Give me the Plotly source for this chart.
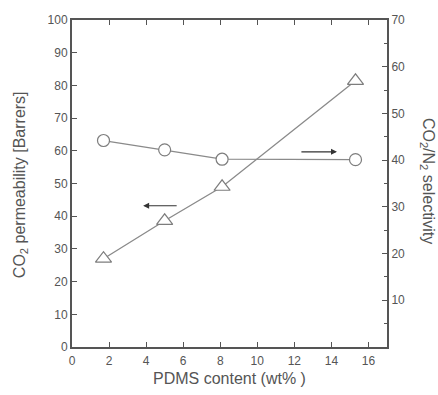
import plotly.graph_objects as go

pdms = [1.7, 5.0, 8.1, 15.3]
permeability = [27.0, 38.6, 49.0, 81.4]
selectivity = [44.2, 42.2, 40.2, 40.1]

x_ticks = [0, 2, 4, 6, 8, 10, 12, 14, 16]
left_ticks = [0, 10, 20, 30, 40, 50, 60, 70, 80, 90, 100]
right_ticks = [10, 20, 30, 40, 50, 60, 70]

GRAY_LINE = "#8a8a8a"
MARK = "#7d7d7d"
AX = "#555555"
TXT = "#555555"
FONT = "Liberation Sans, Arial, sans-serif"

fig = go.Figure()
fig.add_trace(go.Scatter(
    x=pdms, y=permeability, mode="lines+markers",
    line=dict(color=GRAY_LINE, width=1.3),
    marker=dict(symbol="triangle-up", size=14, color="white",
                line=dict(color=MARK, width=1.2)),
    yaxis="y", showlegend=False))
fig.add_trace(go.Scatter(
    x=pdms, y=selectivity, mode="lines+markers",
    line=dict(color=GRAY_LINE, width=1.3),
    marker=dict(symbol="circle", size=12, color="white",
                line=dict(color=MARK, width=1.2)),
    yaxis="y2", showlegend=False))

tickfont = dict(family=FONT, size=12, color=TXT)
titlefont = dict(family=FONT, size=16, color=TXT)
fig.update_layout(
    width=438, height=395,
    margin=dict(l=72, r=51, t=20, b=48),
    paper_bgcolor="white", plot_bgcolor="white",
    xaxis=dict(range=[0, 17], tickvals=x_ticks, ticks="inside", ticklen=5,
               tickcolor=AX, showline=True, linecolor=AX, linewidth=2,
               mirror="ticks", showgrid=False, zeroline=False,
               tickfont=tickfont, ticklabelstandoff=2),
    yaxis=dict(range=[0, 100], tickvals=left_ticks, ticks="inside", ticklen=5,
               tickcolor=AX, showline=True, linecolor=AX, linewidth=2,
               showgrid=False, zeroline=False, tickfont=tickfont),
    yaxis2=dict(range=[0, 70], tickvals=right_ticks, ticks="inside", ticklen=5,
                tickcolor=AX, showline=True, linecolor=AX, linewidth=2,
                overlaying="y", side="right", showgrid=False, zeroline=False,
                tickfont=tickfont,
                minor=dict(dtick=5, tick0=0, ticks="inside", ticklen=3, tickcolor=AX)),
)

fig.add_annotation(x=3.84, y=43.2, ax=5.73, ay=43.2, xref="x", yref="y",
                   axref="x", ayref="y", text="", showarrow=True,
                   arrowhead=2, arrowsize=1, arrowwidth=1.2, arrowcolor="#333333")
fig.add_annotation(x=14.3, y=59.7, ax=12.3, ay=59.7, xref="x", yref="y",
                   axref="x", ayref="y", text="", showarrow=True,
                   arrowhead=2, arrowsize=1, arrowwidth=1.2, arrowcolor="#333333")

fig.add_annotation(text="PDMS content (wt% )", xref="paper", yref="paper",
                   x=0.5, y=-0.097, xanchor="center", yanchor="middle",
                   showarrow=False, font=titlefont)
fig.add_annotation(text="CO<sub>2</sub> permeability [Barrers]", xref="paper", yref="paper",
                   x=-0.165, y=0.495, xanchor="center", yanchor="middle", textangle=-90,
                   showarrow=False, font=titlefont)
fig.add_annotation(text="CO<sub>2</sub>/N<sub>2</sub> selectivity", xref="paper", yref="paper",
                   x=1.127, y=0.508, xanchor="center", yanchor="middle", textangle=90,
                   showarrow=False, font=titlefont)

fig.write_html("out.html", config={"displayModeBar": False},
               post_script="document.body.style.margin='0';document.body.style.overflow='hidden';")
